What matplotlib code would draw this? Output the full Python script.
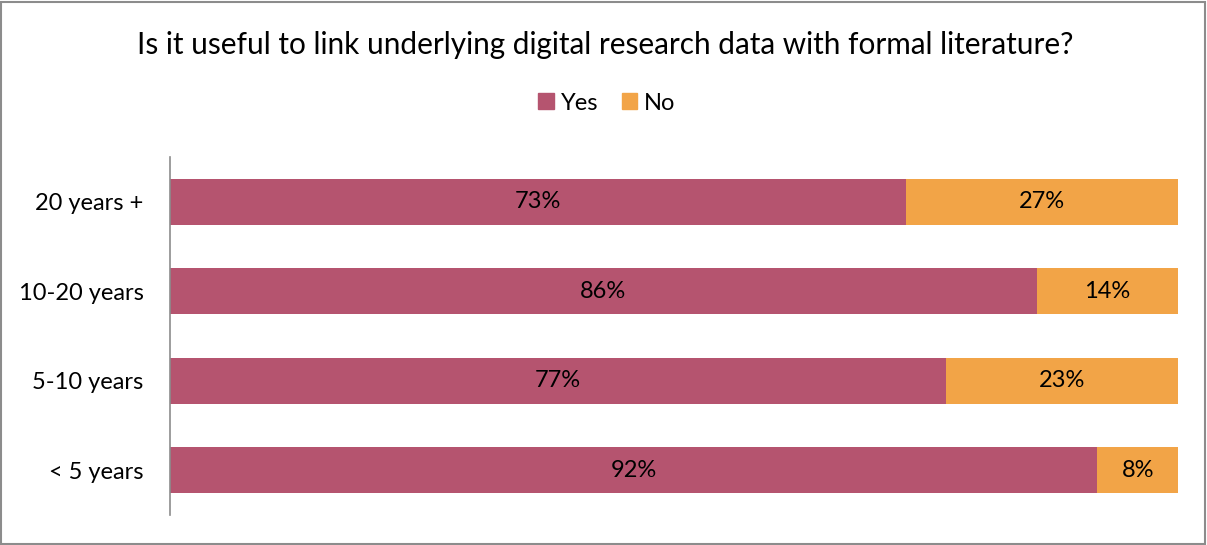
import matplotlib
matplotlib.use("Agg")
import matplotlib.pyplot as plt
from matplotlib.patches import Rectangle

categories = ["< 5 years", "5-10 years", "10-20 years", "20 years +"]
yes_pct = [92, 77, 86, 73]
no_pct = [8, 23, 14, 27]
series_names = ["Yes", "No"]
title = "Is it useful to link underlying digital research data with formal literature?"

yes_color = "#B5546F"
no_color = "#F2A447"

plt.rcParams["font.family"] = ["Lato", "DejaVu Sans"]

W, H = 1207, 545
fig = plt.figure(figsize=(W / 100, H / 100), dpi=100)
ax = fig.add_axes([170 / W, 1 - 515 / H, (1178 - 170) / W, (515 - 157) / H])

y = range(len(categories))
bh = 0.51
b1 = ax.barh(y, yes_pct, height=bh, color=yes_color, label=series_names[0])
b2 = ax.barh(y, no_pct, left=yes_pct, height=bh, color=no_color, label=series_names[1])

for vals, lefts in ((yes_pct, [0] * len(yes_pct)), (no_pct, yes_pct)):
    for i, (v, l) in enumerate(zip(vals, lefts)):
        ax.text(l + v / 2, i, f"{v}%", ha="center", va="center", fontsize=17, color="#000000")

ax.set_xlim(0, 100)
ax.set_ylim(-0.5, len(categories) - 0.5)
ax.set_yticks(list(y))
ax.set_yticklabels(categories, fontsize=17)
ax.set_xticks([])
ax.tick_params(axis="y", length=0, pad=19)
for s in ("top", "right", "bottom"):
    ax.spines[s].set_visible(False)
ax.spines["left"].set_color("#8C8C8C")
ax.spines["left"].set_linewidth(1.2)

fig.text(605 / W, 1 - 45 / H, title, ha="center", va="center", fontsize=21.4)

handles = [Rectangle((0, 0), 1, 1, color=yes_color), Rectangle((0, 0), 1, 1, color=no_color)]
fig.legend(handles, series_names, loc="center", bbox_to_anchor=(607 / W, 1 - 103 / H),
           ncol=2, frameon=False, fontsize=17, handlelength=0.65, handleheight=0.65,
           handletextpad=0.3, columnspacing=1.0)

# outer frame
fig.patches.append(Rectangle((1 / W, 1 / H), (W - 3) / W, (H - 3) / H, transform=fig.transFigure,
                             fill=False, edgecolor="#8C8C8C", linewidth=1.5))

fig.savefig("out.png", dpi=100, facecolor="white")
